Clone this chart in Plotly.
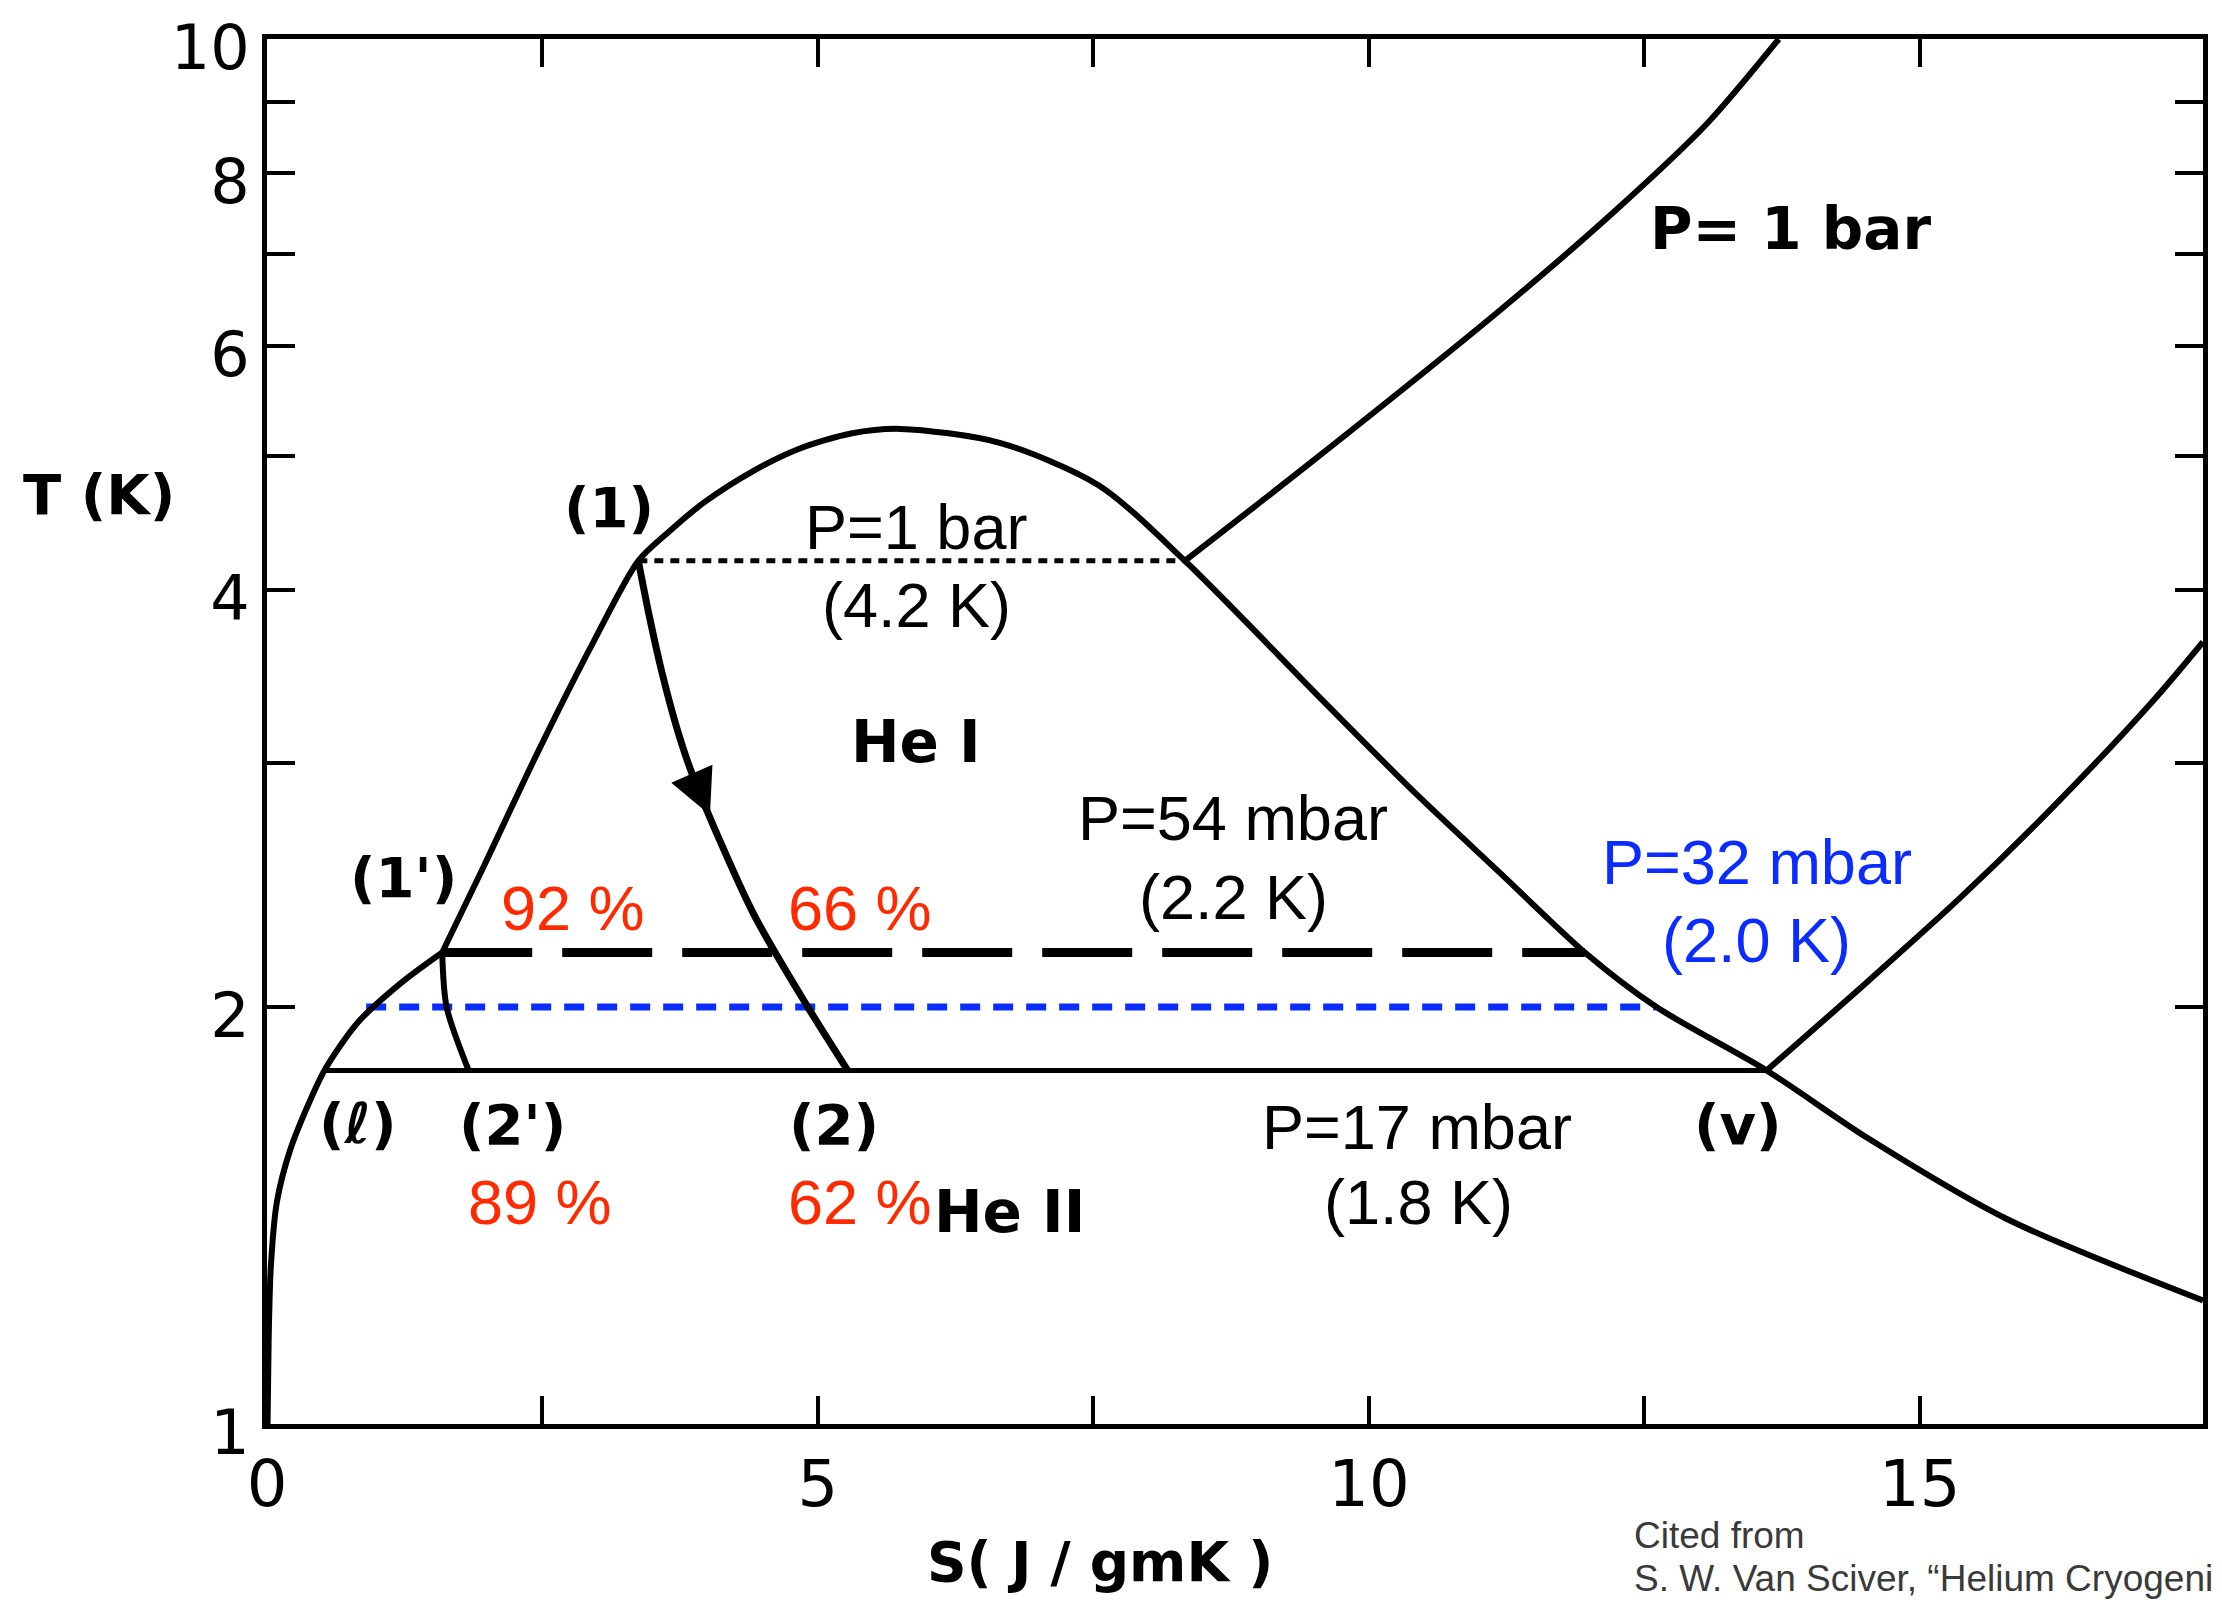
import numpy as np
import plotly.graph_objects as go

# ---------------- data (S in J/gK, T in K) ----------------
# He II saturated-liquid branch, from 1 K up to the lambda kink (1')
liq_S = [0.005, 0.015, 0.035, 0.09, 0.21, 0.41, 0.53, 0.82, 1.22, 1.59]
liq_T = [1.0, 1.15, 1.30, 1.447, 1.577, 1.726, 1.805, 1.948, 2.083, 2.19]

# saturation dome from (1') over the critical point down the vapour side
dome_S = [1.59, 1.97, 2.47, 2.97, 3.37, 3.65, 3.97, 4.40, 4.83, 5.30, 5.75, 6.65,
          7.55, 8.33, 9.58, 10.41, 11.19, 11.96, 12.61, 13.61, 14.53, 15.79, 17.57]
dome_T = [2.19, 2.53, 3.07, 3.68, 4.2, 4.41, 4.63, 4.87, 5.06, 5.19, 5.23, 5.11,
          4.76, 4.2, 3.33, 2.86, 2.50, 2.19, 2.0, 1.8, 1.608, 1.406, 1.228]

# P = 1 bar isobar (superheated vapour)
bar1_S = [8.33, 9.48, 11.19, 12.23, 13.07, 13.72]
bar1_T = [4.2, 4.95, 6.37, 7.51, 8.69, 10.0]

# P = 17 mbar isobar (superheated vapour)
mb17_S = [13.61, 14.53, 15.37, 16.21, 17.12, 17.57]
mb17_T = [1.8, 2.088, 2.40, 2.79, 3.33, 3.67]

# expansion (1) -> (2) and (1') -> (2')
isen_S = [3.37, 3.47, 3.58, 3.72, 3.87, 4.41, 4.90, 5.27]
isen_T = [4.2, 3.83, 3.50, 3.18, 2.93, 2.34, 2.005, 1.8]
isen2_S = [1.59, 1.63, 1.83]
isen2_T = [2.19, 2.0, 1.8]

# isotherms (two-phase lines)
iso1bar_S, iso1bar_T = [3.37, 8.33], [4.2, 4.2]
iso54_S, iso54_T = [1.59, 11.96], [2.19, 2.19]
iso32_S, iso32_T = [0.9, 12.61], [2.0, 2.0]
iso17_S, iso17_T = [0.53, 13.61], [1.8, 1.8]

x_ticks = [0, 2.5, 5, 7.5, 10, 12.5, 15]
x_ticktext = ['0', '', '5', '', '10', '', '15']
y_ticks = [1, 2, 3, 4, 5, 6, 7, 8, 9, 10]
y_ticktext = ['1', '2', '', '4', '', '6', '', '8', '', '10']

RED = '#ff2a00'
BLUE = '#0a2cff'
ARIAL = 'Liberation Sans, Arial, sans-serif'
LEROY = 'DejaVu Sans, sans-serif'

fig = go.Figure()


def line(S, T, width, dash='solid', color='black', shape='spline', smooth=0.8):
    fig.add_trace(go.Scatter(x=S, y=T, mode='lines', hoverinfo='skip',
                             line=dict(color=color, width=width, dash=dash,
                                       shape=shape, smoothing=smooth)))


line(iso1bar_S, iso1bar_T, 5, dash='9px,7px', shape='linear')
line(iso54_S, iso54_T, 9, dash='90px,30px', shape='linear')
line(iso32_S, iso32_T, 7, dash='20px,13px', color=BLUE, shape='linear')
line(iso17_S, iso17_T, 5, shape='linear')
line(liq_S, liq_T, 6)
line(dome_S, dome_T, 6)
line(bar1_S, bar1_T, 6)
line(mb17_S, mb17_T, 6)
line(isen_S, isen_T, 7)
line(isen2_S, isen2_T, 6)

# arrow head on the expansion line
lg = np.log10(isen_T)
tipS, tailS = 4.02, 3.90
fig.add_annotation(x=tipS, y=float(np.interp(tipS, isen_S, lg)),
                   ax=tailS, ay=float(np.interp(tailS, isen_S, lg)),
                   xref='x', yref='y', axref='x', ayref='y', text='',
                   showarrow=True, arrowhead=2, arrowsize=1.8, arrowwidth=5,
                   arrowcolor='black', standoff=0, startstandoff=0)


def lab(text, S, T, size=63, color='black', family=ARIAL, bold=False):
    fig.add_annotation(x=S, y=float(np.log10(T)), xref='x', yref='y',
                       text=text, showarrow=False,
                       xanchor='center', yanchor='middle',
                       font=dict(family=family, size=size, color=color,
                                 weight='bold' if bold else 'normal'))


lab('P=1 bar', 5.89, 4.44)
lab('(4.2 K)', 5.89, 3.90)
lab('P=54 mbar', 8.77, 2.74)
lab('(2.2 K)', 8.77, 2.40)
lab('P=32 mbar', 13.52, 2.546, color=BLUE)
lab('(2.0 K)', 13.52, 2.236, color=BLUE)
lab('P=17 mbar', 10.44, 1.638)
lab('(1.8 K)', 10.45, 1.446)
lab('92 %', 2.78, 2.358, color=RED)
lab('66 %', 5.38, 2.358, color=RED)
lab('89 %', 2.48, 1.446, color=RED)
lab('62 %', 5.38, 1.446, color=RED)

lab('He I', 5.89, 3.11, size=58, family=LEROY, bold=True)
lab('He II', 6.74, 1.422, size=58, family=LEROY, bold=True)
lab('(1)', 3.10, 4.59, size=56, family=LEROY, bold=True)
lab("(1')", 1.24, 2.48, size=56, family=LEROY, bold=True)
lab('(ℓ)', 0.83, 1.647, size=56, family=LEROY, bold=True)
lab("(2')", 2.23, 1.644, size=56, family=LEROY, bold=True)
lab('(2)', 5.15, 1.644, size=56, family=LEROY, bold=True)
lab('(v)', 13.35, 1.644, size=56, family=LEROY, bold=True)
lab('P= 1 bar', 13.83, 7.29, size=58, family=LEROY, bold=True)

# page body adds an 8 px offset; figure coordinates = picture coordinates - 8
OFF = 8
FW, FH = 2222 - OFF, 1604 - OFF
L, R, TOP, BOT = 267 - OFF, 2203 - OFF, 39 - OFF, 1424 - OFF
W, H = R - L, BOT - TOP


def paper(X, Y):
    return (X - OFF - L) / W, (BOT - (Y - OFF)) / H


def plab(text, X, Y, size, family, color='black', bold=False, xanchor='center'):
    px, py = paper(X, Y)
    fig.add_annotation(x=px, y=py, xref='paper', yref='paper', text=text,
                       showarrow=False, xanchor=xanchor, yanchor='middle',
                       font=dict(family=family, size=size, color=color,
                                 weight='bold' if bold else 'normal'))


plab('T (K)', 99, 494, 56, LEROY, bold=True)
plab('S( J / gmK )', 1100, 1562, 55, LEROY, bold=True)
plab('Cited from', 1632, 1535, 37, ARIAL, color='#3a3a3a', xanchor='left')
plab('S. W. Van Sciver, “Helium Cryogenics”', 1632, 1578, 37, ARIAL,
     color='#3a3a3a', xanchor='left')

axis_common = dict(showline=True, linewidth=5, linecolor='black',
                   mirror='allticks', ticks='inside', ticklen=28, tickwidth=4,
                   tickcolor='black', showgrid=False, zeroline=False,
                   automargin=False, ticklabeloverflow='allow')

fig.update_xaxes(range=[0, 17.57], tickvals=x_ticks, ticktext=x_ticktext,
                 ticklabelstandoff=0,
                 tickfont=dict(family=LEROY, size=64, color='black'),
                 **axis_common)
fig.update_yaxes(type='log', range=[0, 1], tickvals=y_ticks,
                 ticktext=y_ticktext, ticklabelstandoff=0, ticklabelshift=8,
                 tickfont=dict(family=LEROY, size=62, color='black'),
                 **axis_common)

fig.update_layout(template='none', width=FW, height=FH, showlegend=False,
                  paper_bgcolor='white', plot_bgcolor='white',
                  margin=dict(l=L, r=FW - R, t=TOP, b=FH - BOT))

fig.write_html('out.html')
